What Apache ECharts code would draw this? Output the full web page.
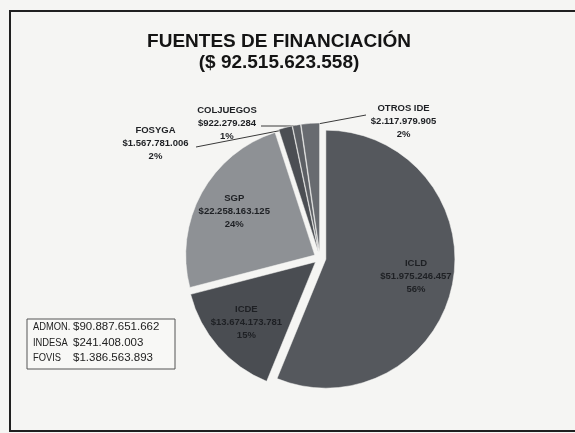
<!DOCTYPE html>
<html><head><meta charset="utf-8">
<script src="https://cdn.jsdelivr.net/npm/echarts@6/dist/echarts.min.js"></script>
<style>html,body{margin:0;padding:0;background:#f5f5f3;}#c{width:575px;height:433px;}</style>
</head><body><div id="c"></div>
<script>
const categories = ['ICLD', 'ICDE', 'SGP', 'FOSYGA', 'COLJUEGOS', 'OTROS IDE'];
const values = [51975246457, 13674173781, 22258163125, 1567781006, 922279284, 2117979905];
const titleLine = 'FUENTES DE FINANCIACIÓN';
const totalLabel = '($ 92.515.623.558)';
const noteLabels = ['ADMON.', 'INDESA', 'FOVIS'];
const noteValues = ['$90.887.651.662', '$241.408.003', '$1.386.563.893'];

const colors = ['#55585d', '#4a4d52', '#8e9195', '#4b4e53', '#5c5f64', '#686b70'];
const insideIdx = [0, 1, 2];
const PC = [320, 258];
const R = 129, OFF = 6;
// target label centres (requested) and where the leader line meets each label
const outsidePos = {3: [157, 149], 4: [228, 129], 5: [404, 127]};
const lineEnds = {3: [[196, 147], [196, 147]], 4: [[296, 126], [261, 126]], 5: [[366, 115], [366, 115]]};

function fmt(v) { return '$' + String(v).replace(/\B(?=(\d{3})+(?!\d))/g, '.'); }

const total = values.reduce((a, b) => a + b, 0);
function midAngle(i) {
  let before = 0;
  for (let k = 0; k < i; k++) before += values[k];
  return (before + values[i] / 2) / total * 2 * Math.PI;
}
function offsetVec(i) {
  const m = midAngle(i);
  return [Math.sin(m) * OFF, -Math.cos(m) * OFF];
}
function edgePoint(i) {
  const m = midAngle(i);
  const rr = R - 2;
  return [PC[0] + Math.sin(m) * rr, PC[1] - Math.cos(m) * rr];
}

const data = categories.map((n, i) => ({
  name: n, value: values[i], selected: true,
  itemStyle: {color: colors[i]},
  label: insideIdx.includes(i) ? {position: 'inside'} : {position: 'outside'},
  labelLine: {show: !insideIdx.includes(i)}
}));

const chart = echarts.init(document.getElementById('c'), null, {renderer: 'canvas'});
const font = '"Liberation Sans", Arial, sans-serif';
chart.setOption({
  backgroundColor: '#f5f5f3',
  animation: false,
  title: {
    text: titleLine + '\n' + totalLabel,
    left: 279, top: 31, textAlign: 'center', padding: 0,
    textStyle: {fontFamily: font, fontSize: 19, fontWeight: 'bold', color: '#141414', lineHeight: 21}
  },
  series: [{
    type: 'pie',
    center: PC, radius: R,
    startAngle: 90, clockwise: true,
    selectedMode: 'multiple', selectedOffset: OFF,
    emphasis: {disabled: true},
    itemStyle: {borderColor: '#f5f5f3', borderWidth: 0.5},
    label: {
      formatter: p => p.name + '\n' + fmt(p.value) + '\n' + Math.round(p.percent) + '%',
      fontFamily: font, fontSize: 9.5, fontWeight: 'bold', color: '#1e2024',
      lineHeight: 13, align: 'center'
    },
    labelLine: {lineStyle: {color: '#3a3a3a', width: 1}, length: 10, length2: 10},
    labelLayout: function (p) {
      const i = p.dataIndex;
      const r = p.labelRect;
      const cx = r.x + r.width / 2, cy = r.y + r.height / 2;
      if (outsidePos[i]) {
        const o = offsetVec(i);
        const loc = pt => [pt[0] - o[0], pt[1] - o[1]];
        return {
          align: 'center',
          dx: outsidePos[i][0] - (r.x + r.width), dy: outsidePos[i][1] - cy,
          labelLinePoints: [edgePoint(i), loc(lineEnds[i][0]), loc(lineEnds[i][1])]
        };
      }
      return {dx: (cx - PC[0]) * 0.36, dy: (cy - PC[1]) * 0.36};
    },
    data: data
  }],
  graphic: [
    {type: 'rect', shape: {x: 10, y: 11, width: 580, height: 420}, style: {fill: 'none', stroke: '#202020', lineWidth: 2}, silent: true},
    {type: 'rect', shape: {x: 27, y: 319, width: 148, height: 50}, style: {fill: '#f8f8f6', stroke: '#555', lineWidth: 1}, silent: true}
  ].concat(noteLabels.map((t, i) => ({
    type: 'text', x: 33, y: 327 + i * 15.5, scaleX: 0.85,
    style: {text: t, font: '11px ' + font, fill: '#222', textVerticalAlign: 'middle'}
  }))).concat(noteValues.map((t, i) => ({
    type: 'text', x: 73, y: 327 + i * 15.5,
    style: {text: t, font: '11.5px ' + font, fill: '#222', textVerticalAlign: 'middle'}
  })))
});
</script></body></html>
